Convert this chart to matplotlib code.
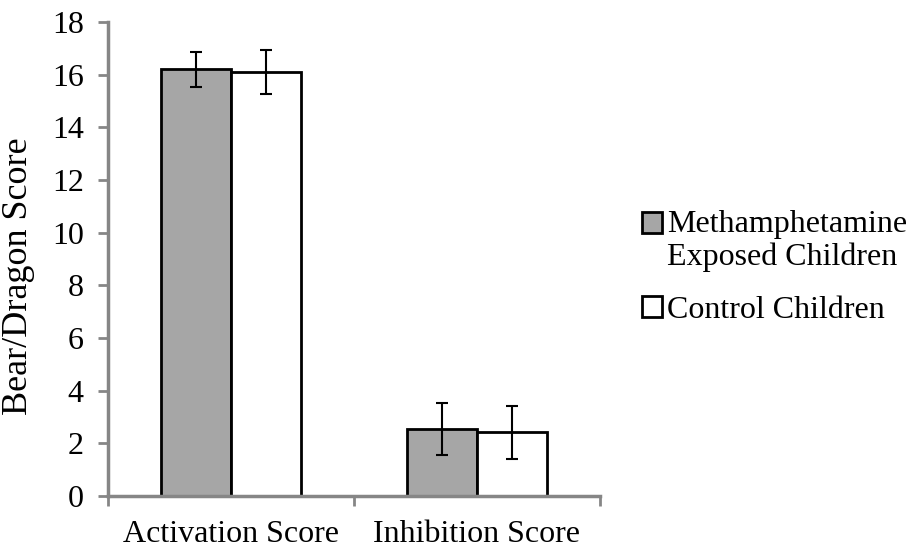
import matplotlib
matplotlib.use('Agg')
import matplotlib.pyplot as plt
import numpy as np
from matplotlib.container import BarContainer
from matplotlib.legend_handler import HandlerPatch, update_from_first_child
from matplotlib.patches import Rectangle

# chart values
categories = ['Activation Score', 'Inhibition Score']
meth_values = [16.2, 2.55]
meth_err = [0.65, 1.0]
control_values = [16.1, 2.42]
control_err = [0.85, 1.0]
series_labels = ['Methamphetamine\nExposed Children', 'Control Children']

plt.rcParams['font.family'] = ['Liberation Serif', 'DejaVu Serif']

fig = plt.figure(figsize=(9.11, 5.47), dpi=100)
ax = fig.add_axes([0.1186, 0.0932, 0.54, 0.8666])

axis_grey = '#868686'
fs = 23
x = np.arange(len(categories))
w = 1 / 3.5

b1 = ax.bar(x - w / 2, meth_values, w, color='#A6A6A6', edgecolor='black',
            linewidth=2, label=series_labels[0], zorder=2)
b2 = ax.bar(x + w / 2, control_values, w, color='white', edgecolor='black',
            linewidth=2, label=series_labels[1], zorder=2)
ax.errorbar(x - w / 2, meth_values, yerr=meth_err, fmt='none', ecolor='black',
            elinewidth=1.5, capsize=4.3, capthick=1.5, zorder=3)
ax.errorbar(x + w / 2, control_values, yerr=control_err, fmt='none', ecolor='black',
            elinewidth=1.5, capsize=4.3, capthick=1.5, zorder=3)

ax.set_xlim(-0.5, 1.5)
ax.set_ylim(0, 18)
ax.set_yticks(np.arange(0, 19, 2))
ax.set_xticks(x)
ax.set_xticklabels(categories)
ax.set_xticks([-0.5, 0.5, 1.5], minor=True)
ax.tick_params(axis='x', which='major', length=0, pad=17, labelsize=fs)
ax.tick_params(axis='x', which='minor', length=7, width=2, color=axis_grey)
ax.tick_params(axis='y', length=7, width=2, color=axis_grey, labelsize=fs, pad=10.5)

for s in ['top', 'right']:
    ax.spines[s].set_visible(False)
for s in ['left', 'bottom']:
    ax.spines[s].set_color(axis_grey)
    ax.spines[s].set_linewidth(2.5)

ax.set_ylabel('Bear/Dragon Score', fontsize=26)
ax.yaxis.set_label_coords(-0.148, 0.464)


# legend square sits next to the first line of a two-line label (Excel style)
def top_square(legend, orig_handle, xdescent, ydescent, width, height, fontsize):
    lift = 0.56 * fontsize if orig_handle is b1 else 0
    return Rectangle((-xdescent, -ydescent + lift), width, height)


handler = HandlerPatch(patch_func=top_square, update_func=update_from_first_child)
leg = fig.legend(handles=[b1, b2], loc='upper left', bbox_to_anchor=(0.6907, 0.6402),
                 borderaxespad=0, frameon=False, fontsize=fs, handlelength=0.63,
                 handleheight=0.6, handletextpad=0.16, labelspacing=0.75,
                 handler_map={BarContainer: handler})
for t in leg.get_texts():
    t.set_linespacing(1.16)

fig.savefig('out.png', dpi=100)
